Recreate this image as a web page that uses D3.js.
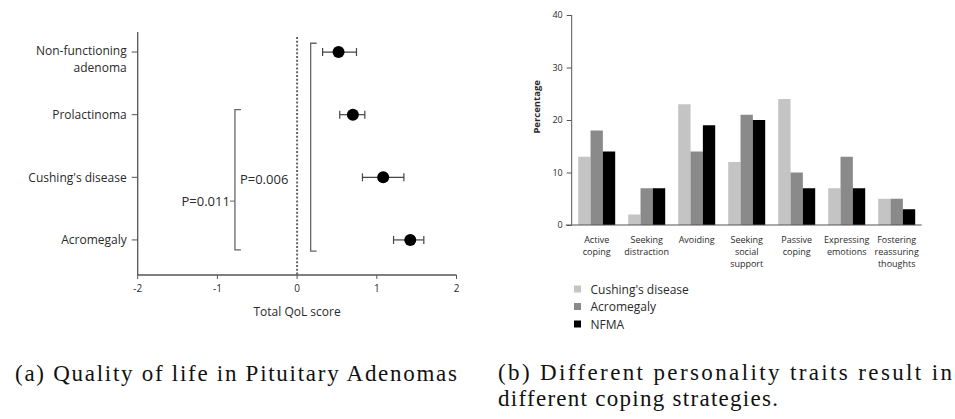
<!DOCTYPE html>
<html>
<head>
<meta charset="utf-8">
<script src="https://cdn.jsdelivr.net/npm/d3@7"></script>
<style>
  body { margin: 0; background: #fff; }
  svg { display: block; }
</style>
</head>
<body>
<div id="chart"></div>
<script>
// ---- data: panel (a) ----
const tumorTypes = ["Non-functioning adenoma", "Prolactinoma", "Cushing's disease", "Acromegaly"];
const qolMean = [0.52, 0.70, 1.08, 1.42];
const qolLow = [0.32, 0.535, 0.82, 1.21];
const qolHigh = [0.745, 0.85, 1.34, 1.59];
const qolTicks = [-2, -1, 0, 1, 2];
const pLabels = ["P=0.011", "P=0.006"];
const pBracketX = [-0.78, 0.17];        // score units
const pBracketFrom = [0.92, -0.14];     // row index units
const pBracketTo = [3.16, 3.18];

// ---- data: panel (b) ----
const strategies = ["Active coping", "Seeking distraction", "Avoiding", "Seeking social support",
  "Passive coping", "Expressing emotions", "Fostering reassuring thoughts"];
const strategyLines = [["Active", "coping"], ["Seeking", "distraction"], ["Avoiding"], ["Seeking", "social", "support"],
  ["Passive", "coping"], ["Expressing", "emotions"], ["Fostering", "reassuring", "thoughts"]];
const groups = ["Cushing's disease", "Acromegaly", "NFMA"];
const cushing = [13, 2, 23, 12, 24, 7, 5];
const acromegaly = [18, 7, 14, 21, 10, 13, 5];
const nfma = [14, 7, 19, 20, 7, 7, 3];
const pctTicks = [0, 10, 20, 30, 40];

const width = 955;
const height = 419;
const sans = "'Open Sans', sans-serif";
const serif = "'Liberation Serif', serif";
const ink = "#2a2a2a";

const svg = d3.select("#chart").append("svg")
  .attr("width", width)
  .attr("height", height)
  .attr("viewBox", [0, 0, width, height]);

// ================= panel (a) =================
const xA = d3.scaleLinear([-2, 2], [137.7, 456.5]);
const yA = d3.scaleLinear([-0.32, 3.56], [32, 275]);

const gA = svg.append("g");

// axes
gA.append("line")
  .attr("x1", xA.range()[0]).attr("x2", xA.range()[0])
  .attr("y1", yA.range()[0]).attr("y2", yA.range()[1])
  .attr("stroke", "#555").attr("stroke-width", 1.3);
gA.append("line")
  .attr("x1", xA.range()[0]).attr("x2", xA.range()[1])
  .attr("y1", yA.range()[1]).attr("y2", yA.range()[1])
  .attr("stroke", "#555").attr("stroke-width", 1.3);

// x ticks
const xt = gA.selectAll(".xt").data(qolTicks).join("g")
  .attr("transform", d => `translate(${xA(d)},${yA.range()[1]})`);
xt.append("line").attr("y2", 4).attr("stroke", "#555");
xt.append("text")
  .attr("y", 17)
  .attr("text-anchor", "middle")
  .style("font", `10px ${sans}`)
  .attr("fill", ink)
  .text(d => d);

gA.append("text")
  .attr("x", xA(0))
  .attr("y", 316)
  .attr("text-anchor", "middle")
  .style("font", `12px ${sans}`)
  .attr("fill", ink)
  .text("Total QoL score");

// y ticks and labels
const yt = gA.selectAll(".yt").data(tumorTypes).join("g")
  .attr("transform", (d, i) => `translate(${xA.range()[0]},${yA(i)})`);
yt.append("line").attr("x1", -6).attr("stroke", "#555");
yt.each(function(d) {
  const lines = d === "Non-functioning adenoma" ? ["Non-functioning", "adenoma"] : [d];
  d3.select(this).selectAll("text").data(lines).join("text")
    .attr("text-anchor", "end")
    .style("font", `12px ${sans}`)
    .attr("fill", ink)
    .attr("x", -11)
    .attr("y", (l, j) => j * 16.6 + (lines.length > 1 ? 3 : 4.5))
    .text(l => l);
});

// zero dotted line
gA.append("line")
  .attr("x1", xA(0)).attr("x2", xA(0))
  .attr("y1", 37).attr("y2", yA.range()[1])
  .attr("stroke", "#666")
  .attr("stroke-width", 2)
  .attr("stroke-dasharray", "2,1.8");

// brackets
pLabels.forEach((label, i) => {
  const bx = xA(pBracketX[i]);
  const y0 = yA(pBracketFrom[i]);
  const y1 = yA(pBracketTo[i]);
  gA.append("path")
    .attr("d", `M${bx + 6},${y0}H${bx}V${y1}H${bx + 6}`)
    .attr("fill", "none")
    .attr("stroke", "#666")
    .attr("stroke-width", 1.3);
});
// P=0.011 label left of the inner bracket, with short connector
gA.append("line")
  .attr("x1", xA(pBracketX[0]) - 5).attr("x2", xA(pBracketX[0]))
  .attr("y1", yA(2.38)).attr("y2", yA(2.38))
  .attr("stroke", "#666");
gA.append("text")
  .attr("x", xA(pBracketX[0]) - 5)
  .attr("y", yA(2.38) + 4.5)
  .attr("text-anchor", "end")
  .style("font", `13px ${sans}`)
  .attr("fill", ink)
  .text(pLabels[0]);
gA.append("text")
  .attr("x", xA(pBracketX[0]) + 5)
  .attr("y", yA(2.04) + 4.5)
  .style("font", `13px ${sans}`)
  .attr("fill", ink)
  .text(pLabels[1]);

// error bars + dots
const eb = gA.selectAll(".eb").data(tumorTypes).join("g")
  .attr("stroke", "#444").attr("stroke-width", 1.2);
eb.append("line")
  .attr("x1", (d, i) => xA(qolLow[i])).attr("x2", (d, i) => xA(qolHigh[i]))
  .attr("y1", (d, i) => yA(i)).attr("y2", (d, i) => yA(i));
eb.append("line")
  .attr("x1", (d, i) => xA(qolLow[i])).attr("x2", (d, i) => xA(qolLow[i]))
  .attr("y1", (d, i) => yA(i) - 4).attr("y2", (d, i) => yA(i) + 4);
eb.append("line")
  .attr("x1", (d, i) => xA(qolHigh[i])).attr("x2", (d, i) => xA(qolHigh[i]))
  .attr("y1", (d, i) => yA(i) - 4).attr("y2", (d, i) => yA(i) + 4);
gA.selectAll(".dot").data(tumorTypes).join("circle")
  .attr("cx", (d, i) => xA(qolMean[i]))
  .attr("cy", (d, i) => yA(i))
  .attr("r", 6)
  .attr("fill", "#000");

// ================= panel (b) =================
const xB = d3.scaleBand(strategies, [571.7, 921.7]).paddingInner(0.26).paddingOuter(0.13);
const xSub = d3.scaleBand(groups, [0, xB.bandwidth()]);
const yB = d3.scaleLinear([0, 40], [225, 15]);
const colors = d3.scaleOrdinal(groups, ["#c4c4c4", "#8a8a8a", "#000"]);
const seriesValues = [cushing, acromegaly, nfma];

const gB = svg.append("g");

// bars
const bg = gB.selectAll(".grp").data(strategies).join("g")
  .attr("transform", d => `translate(${xB(d)},0)`);
bg.selectAll("rect")
  .data((d, i) => groups.map((g, j) => ({ group: g, value: seriesValues[j][i] })))
  .join("rect")
  .attr("x", d => xSub(d.group))
  .attr("y", d => yB(d.value))
  .attr("width", xSub.bandwidth())
  .attr("height", d => yB(0) - yB(d.value))
  .attr("fill", d => colors(d.group));

// y axis
gB.append("g")
  .attr("transform", `translate(${xB.range()[0]},0)`)
  .call(d3.axisLeft(yB).tickValues(pctTicks).tickSize(5).tickPadding(4))
  .call(g => g.select(".domain").attr("stroke", "#555").attr("d", `M0,${yB(40)}V${yB(0)}`))
  .call(g => g.selectAll(".tick line").attr("stroke", "#555"))
  .call(g => g.selectAll(".tick text").attr("fill", ink).style("font", `9px ${sans}`));

// x axis line
gB.append("line")
  .attr("x1", xB.range()[0] - 6).attr("x2", xB.range()[1])
  .attr("y1", yB(0)).attr("y2", yB(0))
  .attr("stroke", "#555").attr("stroke-width", 1.2);

gB.append("text")
  .attr("transform", `translate(540,${yB(22.5)}) rotate(-90)`)
  .attr("text-anchor", "middle")
  .style("font", `bold 9.5px ${sans}`)
  .attr("fill", ink)
  .text("Percentage");

// category labels
gB.selectAll(".cat").data(strategies).join("text")
  .attr("text-anchor", "middle")
  .style("font", `9px ${sans}`)
  .attr("fill", ink)
  .each(function(d, i) {
    d3.select(this).selectAll("tspan").data(strategyLines[i]).join("tspan")
      .attr("x", xB(d) + xB.bandwidth() / 2)
      .attr("y", (l, j) => 242.5 + j * 12)
      .text(l => l);
  });

// legend
const lg = gB.selectAll(".lg").data(groups).join("g")
  .attr("transform", (d, i) => `translate(574,${289 + i * 17.5})`);
lg.append("rect")
  .attr("y", -3.5).attr("width", 7).attr("height", 7)
  .attr("fill", d => colors(d));
lg.append("text")
  .attr("x", 16.5).attr("y", 4.5)
  .style("font", `12px ${sans}`)
  .attr("fill", ink)
  .text(d => d);

// ================= captions =================
svg.append("text")
  .attr("x", 15).attr("y", 381)
  .attr("textLength", 442).attr("lengthAdjust", "spacing")
  .style("font", `23px ${serif}`)
  .attr("fill", "#111")
  .text("(a) Quality of life in Pituitary Adenomas");
svg.append("text")
  .attr("x", 498).attr("y", 380)
  .attr("textLength", 454).attr("lengthAdjust", "spacing")
  .style("font", `23px ${serif}`)
  .attr("fill", "#111")
  .text("(b) Different personality traits result in");
svg.append("text")
  .attr("x", 498).attr("y", 406)
  .attr("textLength", 280).attr("lengthAdjust", "spacing")
  .style("font", `23px ${serif}`)
  .attr("fill", "#111")
  .text("different coping strategies.");
</script>
</body>
</html>
